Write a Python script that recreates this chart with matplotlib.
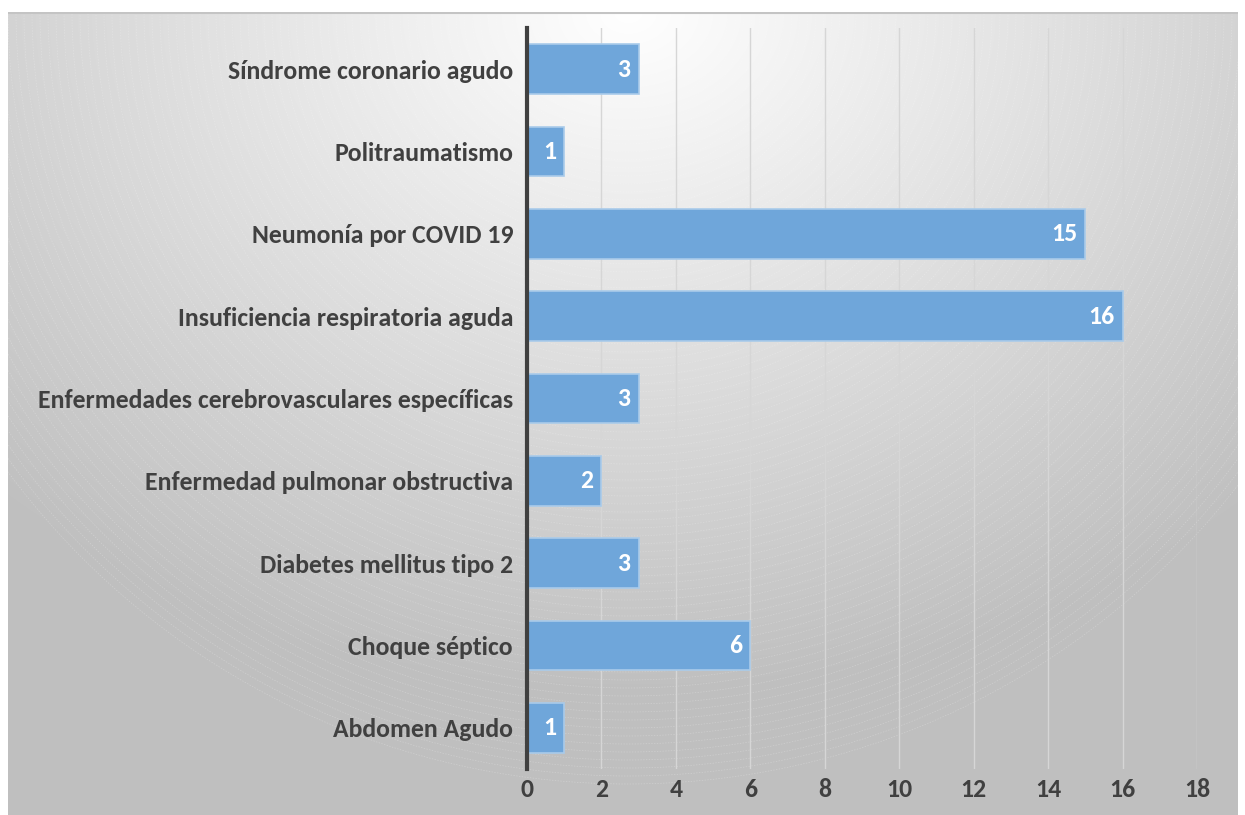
import numpy as np
import matplotlib
matplotlib.use("Agg")
import matplotlib.pyplot as plt
from matplotlib.patches import Ellipse

categories = [
    "Síndrome coronario agudo",
    "Politraumatismo",
    "Neumonía por COVID 19",
    "Insuficiencia respiratoria aguda",
    "Enfermedades cerebrovasculares específicas",
    "Enfermedad pulmonar obstructiva",
    "Diabetes mellitus tipo 2",
    "Choque séptico",
    "Abdomen Agudo",
]
values = [3, 1, 15, 16, 3, 2, 3, 6, 1]
x_ticks = [0, 2, 4, 6, 8, 10, 12, 14, 16, 18]

FONT = ["Carlito", "Lato", "DejaVu Sans"]
TXT = "#404040"
FS = 18.5

W, H = 1245, 815
fig = plt.figure(figsize=(W / 100, H / 100), dpi=100)
fig.patch.set_facecolor("white")

# radial-gradient chart panel
PX0, PY0 = 8, 12
PW, PH = 1230, H - PY0
bg = fig.add_axes([PX0 / W, 0, PW / W, PH / H])
bg.set_axis_off()
yy, xx = np.mgrid[0:PH, 0:PW]
cx, cy = 620, 0
t = np.sqrt(((xx - cx) / 900.0) ** 2 + ((yy - cy) / 680.0) ** 2)
t = np.clip(t, 0, 1)
lum = 1.0 - 0.25 * t
bg.imshow(np.dstack([lum, lum, lum]), aspect="auto", extent=[0, PW, PH, 0],
          interpolation="bilinear")
# faint concentric rings
for rr in np.arange(20, 780, 8):
    bg.add_patch(Ellipse((cx, cy), 2 * rr, 2 * rr, fill=False,
                         edgecolor="white", linewidth=0.5, alpha=0.25,
                         linestyle=(0, (2, 2))))
bg.plot([0, PW], [0.5, 0.5], color="#c4c4c4", linewidth=1.5)
bg.set_xlim(0, PW)
bg.set_ylim(PH, 0)

# plot area
left, right = 527 / W, 1197 / W
top, bottom = 1 - 28 / H, 1 - 769 / H
ax = fig.add_axes([left, bottom, right - left, top - bottom])
ax.patch.set_alpha(0)

ypos = np.arange(len(categories))
ax.barh(ypos, values, height=0.6, color="#6fa6da", edgecolor="#a9cbea",
        linewidth=1.2, zorder=3)
for y, v in zip(ypos, values):
    ax.text(v - 0.22, y, str(v), ha="right", va="center", color="white",
            fontsize=FS, fontweight="bold", family=FONT, zorder=4)

ax.set_xlim(0, 18)
ax.set_ylim(len(categories) - 0.5, -0.5)
ax.set_xticks(x_ticks)
ax.set_xticklabels([str(v) for v in x_ticks])
ax.set_yticks(ypos)
ax.set_yticklabels(categories)
ax.xaxis.grid(True, color="#d6d6d6", linewidth=1.0, zorder=0)
ax.set_axisbelow(True)
for s in ["top", "right", "bottom"]:
    ax.spines[s].set_visible(False)
ax.spines["left"].set_color(TXT)
ax.spines["left"].set_linewidth(3)
ax.spines["left"].set_zorder(5)
ax.tick_params(axis="both", length=0, colors=TXT)
ax.tick_params(axis="x", pad=6.5)
ax.tick_params(axis="y", pad=10)
for lab in ax.get_xticklabels() + ax.get_yticklabels():
    lab.set_fontfamily(FONT)
    lab.set_fontweight("bold")
    lab.set_fontsize(FS)
    lab.set_color(TXT)

fig.savefig("out.png", dpi=100, facecolor=fig.get_facecolor())
